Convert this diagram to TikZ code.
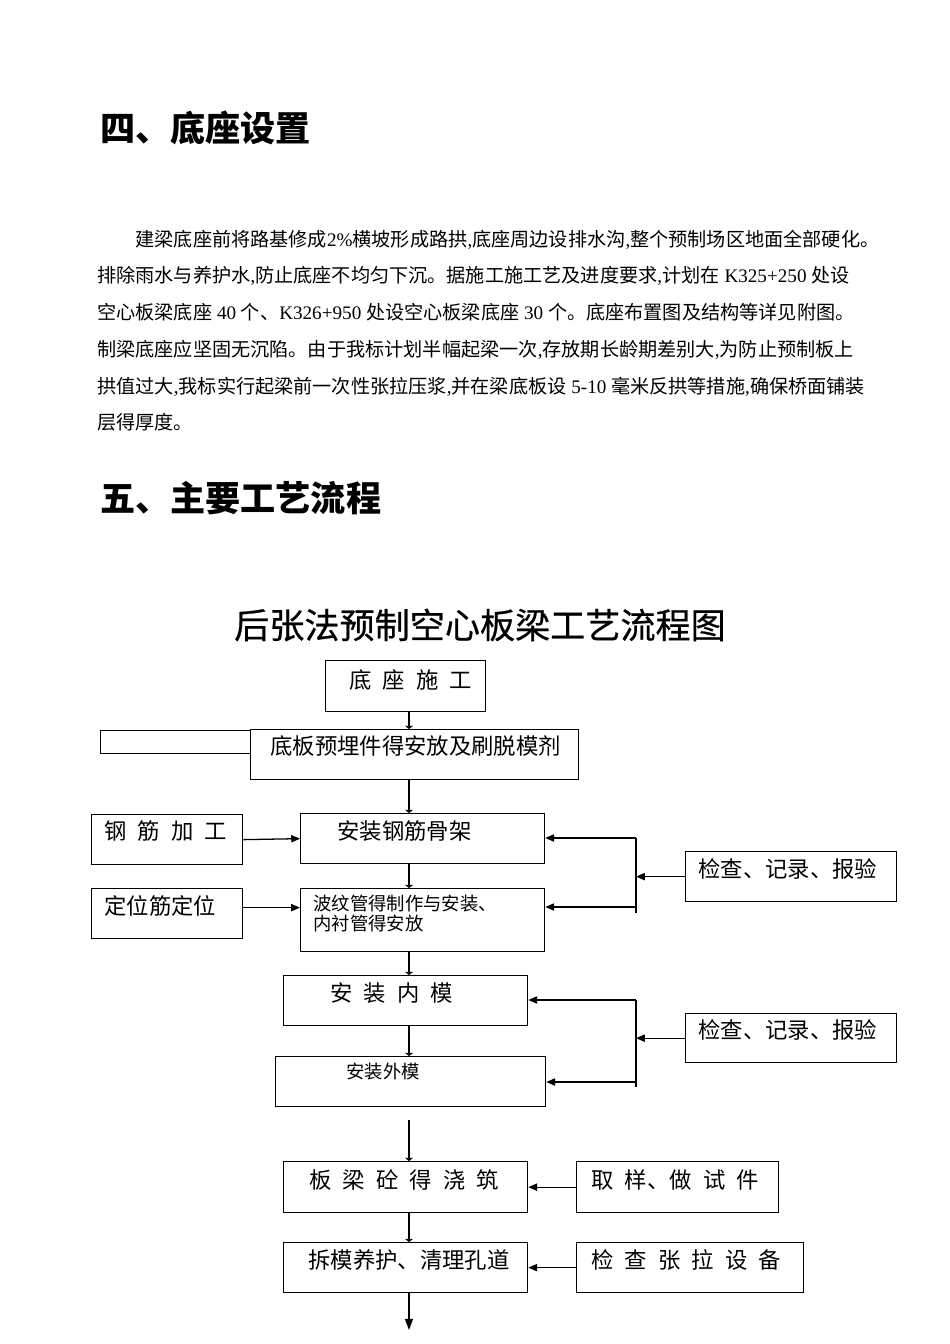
\documentclass[tikz,border=0pt]{standalone}
\usepackage{fontspec}
\setmainfont{Noto Sans CJK SC}
\newfontfamily\romfont{Liberation Serif}
\newfontfamily\titlefont{Noto Sans CJK SC}[FakeBold=0.6]
\usetikzlibrary{arrows.meta}
\newcommand{\pxu}{0.6266pt}
\tikzset{
  box/.style={draw, line width=0.8pt, anchor=north west, inner sep=0pt},
  tag/.style={anchor=west, inner sep=0pt, font={\fontsize{14pt}{16pt}\selectfont\spaceskip=.5em\relax}},
  body/.style={anchor=west, inner sep=0pt, font={\fontsize{12pt}{14pt}\selectfont}},
  head/.style={anchor=west, inner sep=0pt, font={\fontsize{22pt}{26pt}\selectfont\bfseries}},
  wire/.style={line width=0.8pt},
  flow/.style={wire, -{Triangle[length=2pt,width=5pt]}},
  side/.style={wire, -{Triangle[length=5.5pt,width=4.5pt]}},
}
\begin{document}
\begin{tikzpicture}[x=\pxu, y=-\pxu]
\useasboundingbox (0,0) rectangle (950,1344);

% 四、底座设置
\node[head] (sec4) at (100,128) {四、底座设置};
\node[body] (p1) at (97,240) {\hspace*{2em}建梁底座前将路基修成{\romfont 2\%}横坡形成路拱{\romfont ,}底座周边设排水沟{\romfont ,}整个预制场区地面全部硬化。};
\node[body] (p2) at (97,276) {排除雨水与养护水{\romfont ,}防止底座不均匀下沉。据施工施工艺及进度要求{\romfont ,}计划在{\romfont\ K325+250 }处设};
\node[body] (p3) at (97,312) {空心板梁底座{\romfont\ 40 }个、{\romfont K326+950 }处设空心板梁底座{\romfont\ 30 }个。底座布置图及结构等详见附图。};
\node[body] (p4) at (97,350) {制梁底座应坚固无沉陷。由于我标计划半幅起梁一次{\romfont ,}存放期长龄期差别大{\romfont ,}为防止预制板上};
\node[body] (p5) at (97,387) {拱值过大{\romfont ,}我标实行起梁前一次性张拉压浆{\romfont ,}并在梁底板设{\romfont\ 5-10 }毫米反拱等措施{\romfont ,}确保桥面铺装};
\node[body] (p6) at (97,422) {层得厚度。};

% 五、主要工艺流程
\node[head] (sec5) at (100,498) {五、主要工艺流程};
\node[inner sep=0pt, font={\titlefont\fontsize{22pt}{26pt}\selectfont}] (title) at (480,625) {后张法预制空心板梁工艺流程图};

% modules
\node[box, minimum width=160*\pxu, minimum height=51*\pxu] (base) at (325,660) {};
\node[box, minimum width=150*\pxu, minimum height=23*\pxu] (stub) at (100,730) {};
\node[box, minimum width=328*\pxu, minimum height=50*\pxu] (slab) at (250,729) {};
\node[box, minimum width=151*\pxu, minimum height=50*\pxu] (rebar) at (91,814) {};
\node[box, minimum width=244*\pxu, minimum height=50*\pxu] (cage) at (300,813) {};
\node[box, minimum width=211*\pxu, minimum height=50*\pxu] (check1) at (685,851) {};
\node[box, minimum width=151*\pxu, minimum height=50*\pxu] (locate) at (91,888) {};
\node[box, minimum width=244*\pxu, minimum height=63*\pxu] (duct) at (300,888) {};
\node[box, minimum width=244*\pxu, minimum height=50*\pxu] (inner) at (283,975) {};
\node[box, minimum width=211*\pxu, minimum height=49*\pxu] (check2) at (685,1013) {};
\node[box, minimum width=270*\pxu, minimum height=50*\pxu] (outer) at (275,1056) {};
\node[box, minimum width=244*\pxu, minimum height=51*\pxu] (pour) at (283,1161) {};
\node[box, minimum width=202*\pxu, minimum height=51*\pxu] (sample) at (576,1161) {};
\node[box, minimum width=244*\pxu, minimum height=50*\pxu] (strip) at (283,1242) {};
\node[box, minimum width=227*\pxu, minimum height=50*\pxu] (jack) at (576,1242) {};

% texts
\node[tag] (tbase) at (349,680) {底 座 施 工};
\node[tag] (tslab) at (270,746) {底板预埋件得安放及刷脱模剂};
\node[tag] (trebar) at (104,831) {钢 筋 加 工};
\node[tag] (tcage) at (337,831) {安装钢筋骨架};
\node[tag] (tcheck1) at (698,869) {检查、记录、报验};
\node[tag] (tlocate) at (104,906) {定位筋定位};
\node[tag, align=left, font={\fontsize{11.5pt}{12pt}\selectfont}] (tduct) at (313,913.5) {波纹管得制作与安装、\\内衬管得安放};
\node[tag] (tinner) at (330,993) {安 装 内 模};
\node[tag] (tcheck2) at (698,1030) {检查、记录、报验};
\node[tag, font={\fontsize{11.5pt}{12pt}\selectfont}] (touter) at (346,1072) {安装外模};
\node[tag] (tpour) at (309,1180) {板 梁 砼 得 浇 筑};
\node[tag] (tsample) at (591,1180) {取 样、做 试 件};
\node[tag] (tstrip) at (308,1260) {拆模养护、清理孔道};
\node[tag] (tjack) at (591,1260) {检 查 张 拉 设 备};

% lines
\coordinate (spine) at (409,0);
\draw[flow] (spine |- base.south) -- (spine |- slab.north);
\draw[flow] (spine |- slab.south) -- (spine |- cage.north);
\draw[side] (rebar.east) -- (cage.west);
\coordinate (locout) at ([yshift=6*\pxu]locate.east);
\draw[side] (locout) -- (locout -| duct.west);
\draw[flow] (spine |- cage.south) -- (spine |- duct.north);

\coordinate (bus1a) at (636,838);
\coordinate (bus1b) at (636,913);
\coordinate (bus1c) at (636,907);
\draw[wire] (bus1a) -- (bus1b);
\draw[side] (check1.west) -- (check1.west -| bus1a);
\draw[side] (bus1a) -- (bus1a -| cage.east);
\draw[side] (bus1c) -- (bus1c -| duct.east);

\draw[flow] (spine |- duct.south) -- (spine |- inner.north);
\draw[flow] (spine |- inner.south) -- (spine |- outer.north);

\coordinate (bus2a) at (636,1000);
\coordinate (bus2b) at (636,1087);
\coordinate (bus2c) at (636,1082);
\draw[wire] (bus2a) -- (bus2b);
\draw[side] (check2.west) -- (check2.west -| bus2a);
\draw[side] (bus2a) -- (bus2a -| inner.east);
\draw[side] (bus2c) -- (bus2c -| outer.east);

\coordinate (gap) at (409,1120);
\draw[flow] (gap) -- (spine |- pour.north);
\draw[side] (sample.west) -- (pour.east);
\draw[flow] (spine |- pour.south) -- (spine |- strip.north);
\draw[side] (jack.west) -- (strip.east);
\coordinate (exit) at (409,1330);
\draw[wire, -{Triangle[length=7pt,width=5pt]}] (spine |- strip.south) -- (exit);
\end{tikzpicture}
\end{document}
